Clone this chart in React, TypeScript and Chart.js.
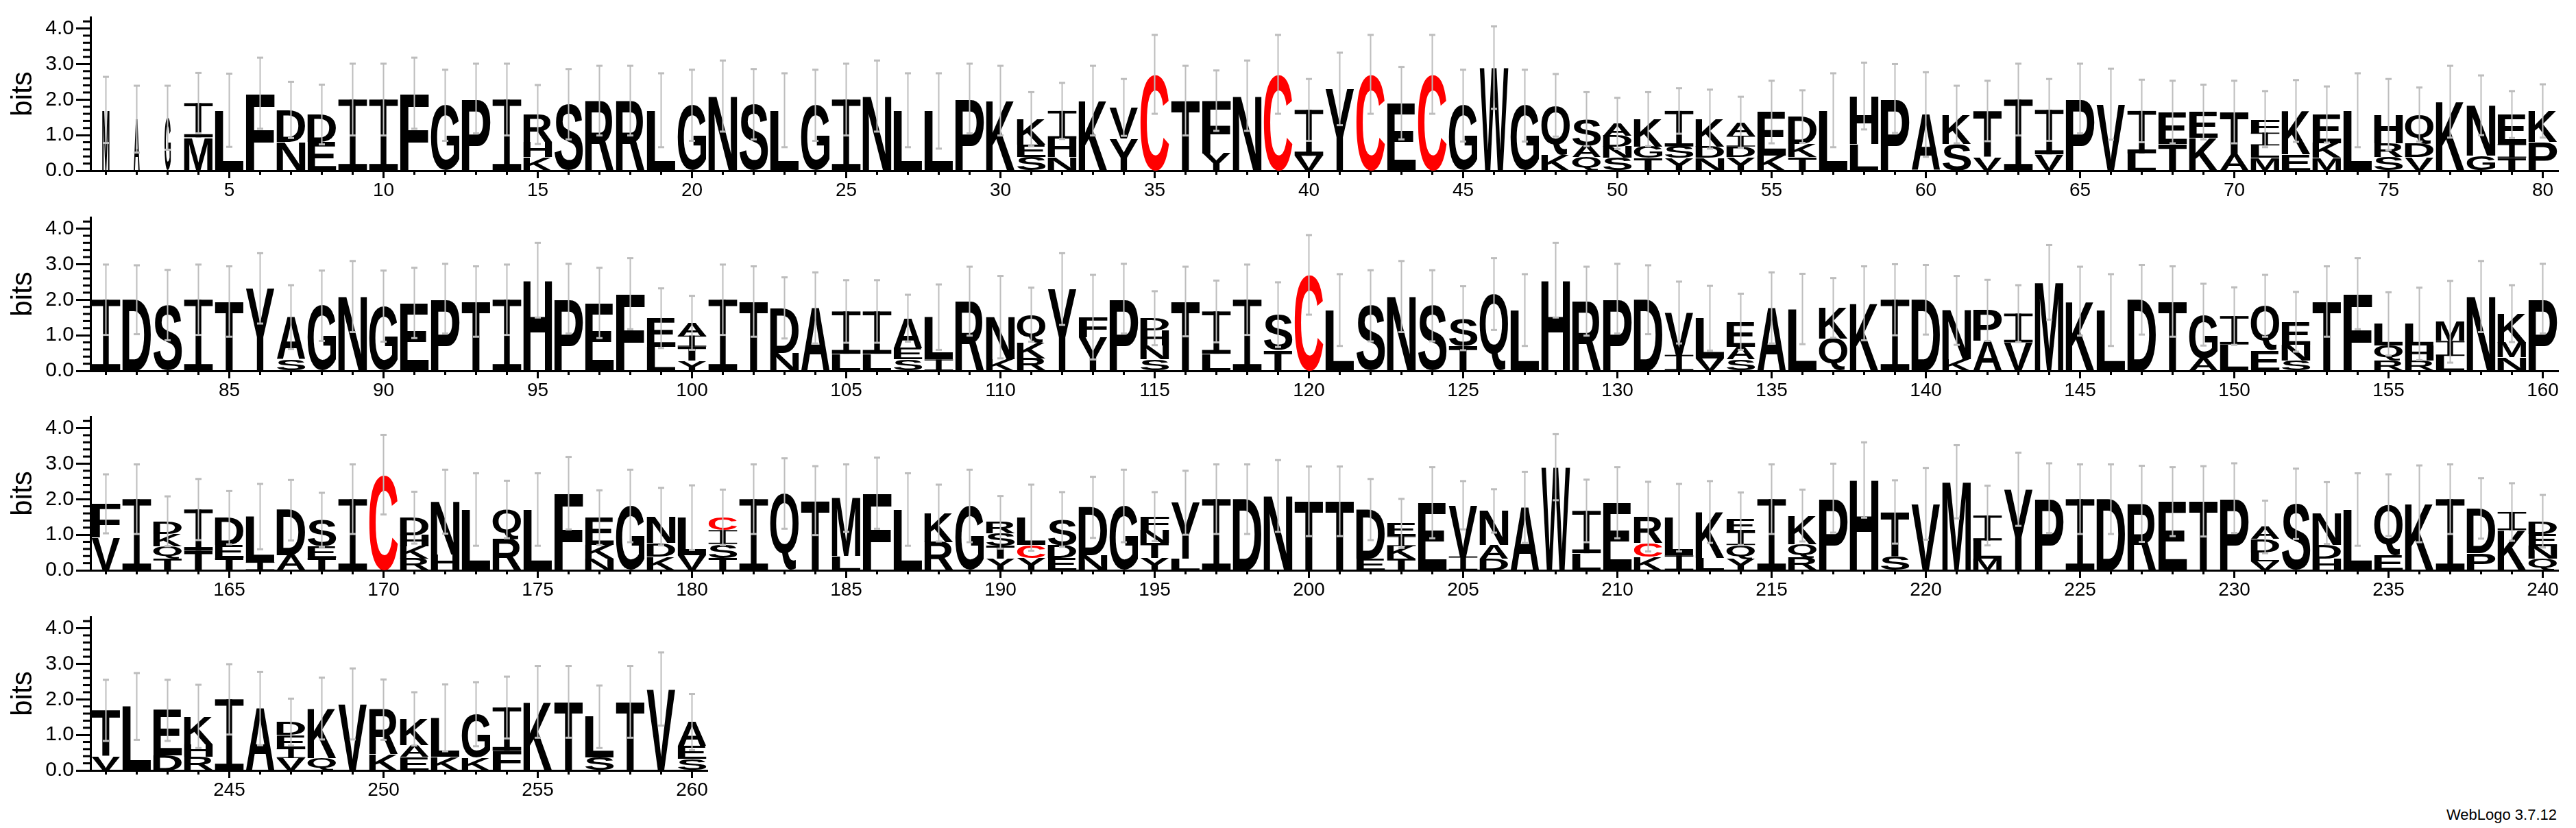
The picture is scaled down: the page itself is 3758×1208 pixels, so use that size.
import React, { useEffect, useRef } from 'react';
import { Chart, registerables } from 'chart.js';

Chart.register(...registerables);

const FONT = '"Liberation Sans", Arimo, Arial, Helvetica, sans-serif';

// Each stack: letters from bottom to top, each followed by the cumulative height (bits) of its top edge.
const row1Stacks = [
  "M1.71", "A1.45", "G1.49", "M0.94 I1.90", "L1.70", "F2.18", "N0.81 D1.71", "E0.81 D1.58", "I2.00", "I2.00",
  "F2.18", "G1.84", "P2.03", "I2.00", "K0.39 H0.81 R1.58", "S1.87", "R1.97", "R1.97", "L1.70", "G1.84",
  "N2.10", "S1.87", "L1.70", "G1.84", "I2.00", "N2.10", "L1.70", "L1.68", "P2.03", "K1.97",
  "S0.39 E0.74 K1.45", "N0.39 H0.90 I1.68", "K1.97", "Y0.91 V1.78", "C2.71", "T1.97", "Y0.49 F1.97", "N2.11", "C2.71", "V0.42 I1.71",
  "Y2.30", "C2.71", "E1.90", "C2.71", "G1.83", "W2.90", "G1.83", "K0.46 Q1.84", "Q0.39 A0.71 S1.45", "S0.36 N0.68 D0.99 A1.33",
  "T0.36 G0.68 K1.45", "Y0.36 S0.68 I1.68", "N0.36 D0.68 K1.45", "Y0.39 D0.68 I0.98 A1.36", "K0.42 E1.65", "T0.39 K0.76 D1.52", "L1.70", "L0.75 H2.10", "P2.03", "A1.58",
  "S0.75 K1.58", "V0.39 T1.68", "I2.00", "V0.46 I1.71", "P2.03", "V1.87", "L0.49 I1.68", "T0.75 E1.65", "K0.92 E1.65", "A0.46 T1.65",
  "M0.36 L0.71 I1.07 F1.45", "E0.46 K1.68", "M0.36 K0.78 E1.58", "L1.70", "S0.39 R0.78 H1.58", "V0.39 D0.78 Q1.58", "K1.94", "G0.42 N1.84", "T0.36 I0.75 E1.58", "P0.81 K1.68"
];
const row1ErrorTops = [
  2.64, 2.39, 2.39, 2.75, 2.73, 3.18, 2.5, 2.42, 3.01, 3.01,
  3.18, 2.84, 3.01, 3.01, 2.41, 2.86, 2.95, 2.95, 2.74, 2.84,
  3.10, 2.86, 2.74, 2.84, 3.01, 3.10, 2.74, 2.74, 3.01, 2.95,
  2.21, 2.47, 2.95, 2.58, 3.82, 2.95, 2.82, 3.10, 3.82, 2.58,
  3.32, 3.82, 2.92, 3.82, 2.84, 4.06, 2.84, 2.72, 2.21, 2.05,
  2.21, 2.32, 2.28, 2.08, 2.53, 2.26, 2.74, 3.04, 3.0, 2.77,
  2.39, 2.53, 3.01, 2.58, 3.01, 2.87, 2.56, 2.53, 2.42, 2.53,
  2.24, 2.55, 2.37, 2.74, 2.58, 2.34, 2.95, 2.68, 2.24, 2.43
];

const row2Stacks = [
  "I2.00", "D2.00", "S1.85", "I2.00", "T1.95", "Y2.32", "S0.32 A1.51", "G1.83", "N2.09", "G1.82",
  "E1.91", "P2.03", "T1.95", "I2.00", "H2.55", "P2.03", "E1.91", "F2.17", "L0.68 E1.48", "Y0.29 T0.68 I0.99 A1.35",
  "I2.00", "T1.95", "N0.51 D1.77", "A1.77", "L0.48 I1.67", "L0.48 I1.67", "S0.32 E0.64 A1.48", "I0.32 L1.51", "R1.96", "K0.32 N1.51",
  "R0.35 K0.80 Q1.58", "Y2.30", "Y0.95 F1.51", "P2.03", "S0.32 N0.71 H1.13 D1.48", "T1.95", "L0.48 I1.67", "I2.00", "T0.58 S1.58", "C2.70",
  "L1.71", "S1.83", "N2.09", "S1.83", "T0.71 S1.48", "Q2.16", "L1.71", "H2.55", "R1.96", "P2.03",
  "D2.00", "I0.45 V1.64", "V0.35 L1.48", "S0.32 A0.68 E1.38", "A1.77", "L1.74", "Q0.90 K1.77", "K1.90", "I2.00", "D2.00",
  "K0.32 N1.70", "A0.84 P1.70", "V0.80 I1.61", "M2.49", "K1.96", "L1.71", "D2.00", "T1.95", "A0.35 G1.58", "L0.74 I1.54",
  "E0.58 Q1.83", "S0.29 N0.74 E1.38", "T1.95", "F2.17", "R0.29 Q0.71 L1.32", "R0.29 H0.71 L1.32", "L0.42 I0.84 M1.38", "N2.09", "N0.39 M0.80 K1.61", "P2.03"
];
const row2ErrorTops = [
  2.99, 2.97, 2.84, 2.99, 2.94, 3.31, 2.41, 2.82, 3.09, 2.82,
  2.90, 3.01, 2.94, 2.99, 3.60, 3.01, 2.90, 3.17, 2.32, 2.11,
  2.99, 2.94, 2.63, 2.77, 2.55, 2.55, 2.14, 2.43, 2.93, 2.67,
  2.34, 3.31, 2.70, 3.01, 2.24, 2.93, 2.54, 2.99, 2.49, 3.82,
  2.72, 2.83, 3.09, 2.83, 2.38, 3.17, 2.72, 3.60, 2.93, 3.01,
  2.97, 2.51, 2.39, 2.17, 2.77, 2.73, 2.61, 2.94, 3.00, 2.98,
  2.67, 2.56, 2.41, 3.54, 2.93, 2.72, 2.98, 2.94, 2.45, 2.35,
  2.70, 2.22, 2.94, 3.17, 2.21, 2.34, 2.53, 3.09, 2.41, 3.01
];

const row3Stacks = [
  "V0.93 F1.87", "I2.00", "T0.32 Q0.68 K1.03 D1.38", "T0.55 I1.71", "T0.35 E0.71 D1.48", "I0.23 L1.51", "A0.42 D1.69", "T0.35 E0.68 S1.42", "I2.00", "C2.69",
  "R0.32 K0.68 H0.99 D1.48", "H0.45 N1.93", "L1.71", "R0.87 Q1.71", "L1.71", "F2.17", "N0.32 K0.71 E1.48", "G1.81", "K0.39 D0.77 N1.51", "V0.42 L1.48",
  "T0.35 S0.74 I1.13 C1.49", "I2.00", "Q2.16", "T1.96", "L0.40 M2.03", "F2.17", "L1.71", "R0.80 K1.61", "G1.81", "Y0.32 T0.68 S1.03 R1.35",
  "Y0.35 C0.71 L1.48", "E0.35 D0.71 S1.43", "N0.42 D1.77", "G1.81", "Y0.35 T0.77 N1.13 F1.51", "L0.32 Y1.90", "I2.00", "D2.00", "N2.09", "T1.94",
  "T1.94", "E0.32 D1.71", "T0.32 K0.68 I0.96 E1.32", "E1.90", "I0.39 V1.83", "D0.32 A0.71 N1.67", "A1.77", "W2.90", "L0.48 I1.67", "E1.90",
  "K0.39 C0.77 R1.51", "I0.42 L1.48", "L0.35 K1.64", "Y0.32 Q0.71 I1.08 E1.45", "I2.00", "R0.35 Q0.74 K1.54", "P2.03", "H2.54", "S0.39 T1.64", "V1.87",
  "M2.49", "M0.32 L0.84 I1.54", "Y2.28", "P2.03", "I2.00", "D2.00", "R1.87", "E1.93", "T1.94", "P2.03",
  "V0.26 L0.51 D0.88 A1.22", "S1.87", "H0.32 D0.71 N1.61", "L1.71", "E0.42 Q1.83", "K1.87", "I2.00", "P0.48 D1.74", "K1.13 I1.64", "Q0.32 N0.68 E1.03 D1.38"
];
const row3ErrorTops = [
  2.70, 2.98, 2.08, 2.57, 2.23, 2.43, 2.54, 2.18, 2.98, 3.81,
  2.21, 2.83, 2.73, 2.52, 2.73, 3.19, 2.25, 2.83, 2.32, 2.39,
  2.27, 2.98, 3.15, 2.93, 2.98, 3.17, 2.73, 2.41, 2.83, 2.09,
  2.41, 2.20, 2.63, 2.83, 2.20, 2.80, 2.98, 2.98, 3.10, 2.92,
  2.92, 2.57, 2.01, 2.90, 2.51, 2.28, 2.77, 3.83, 2.55, 2.90,
  2.49, 2.43, 2.51, 2.19, 2.98, 2.27, 3.00, 3.60, 2.53, 2.88,
  3.52, 2.38, 3.31, 3.01, 2.98, 2.98, 2.94, 2.90, 2.93, 3.01,
  1.96, 2.86, 2.48, 2.73, 2.70, 2.95, 2.98, 2.59, 2.45, 2.12
];

const row4Stacks = [
  "V0.40 T1.69", "L1.80", "D0.42 E1.69", "R0.39 H0.74 K1.52", "I2.00", "A1.74", "V0.35 I0.62 E1.00 D1.36", "Q0.35 K1.74", "V1.87", "K0.45 R1.71",
  "E0.39 A0.71 K1.45", "K0.39 L1.48", "K0.36 G1.58", "F0.55 I1.77", "K1.93", "T1.93", "S0.36 L1.51", "T1.93", "V2.29", "S0.32 E0.68 A1.36"
];
const row4ErrorTops = [
  2.55, 2.74, 2.55, 2.41, 2.99, 2.77, 2.02, 2.61, 2.87, 2.56,
  2.20, 2.42, 2.48, 2.64, 2.94, 2.94, 2.39, 2.94, 3.32, 2.15
];

// Stack width fraction for the first alignment positions (few sequences there)
const coverageStart = [0.25, 0.21, 0.22];
const rowStartPositions = [1, 81, 161, 241];
const yTickLabels = ["0.0", "1.0", "2.0", "3.0", "4.0"];

// geometry
const ROW_PITCH = 291.6;
const CANVAS_H = 292;
const AREA_TOP = 25;
const AXIS_LEFT = 132;
const COL_W = 45;
const Y_MAX = 4.32;

type Letter = { ch: string; h: number };

function parseStack(s: string): Letter[] {
  const out: Letter[] = [];
  let prev = 0;
  for (const tok of s.trim().split(/\s+/)) {
    const ch = tok[0];
    const top = parseFloat(tok.slice(1));
    out.push({ ch, h: top - prev });
    prev = top;
  }
  return out;
}

const GLYPH_FONT = `bold 200px ${FONT}`;
const boxCache: Record<string, { l: number; r: number; a: number; d: number }> = {};

function glyphBox(ctx: CanvasRenderingContext2D, ch: string) {
  if (!boxCache[ch]) {
    ctx.font = GLYPH_FONT;
    const m = ctx.measureText(ch);
    boxCache[ch] = {
      l: m.actualBoundingBoxLeft,
      r: m.actualBoundingBoxRight,
      a: m.actualBoundingBoxAscent,
      d: m.actualBoundingBoxDescent,
    };
  }
  return boxCache[ch];
}

function drawLetter(ctx: CanvasRenderingContext2D, ch: string, x: number, y: number, w: number, h: number, color: string) {
  if (h < 0.3 || w < 0.3) return;
  ctx.save();
  ctx.fillStyle = color;
  if (ch === 'I') {
    const bar = Math.max(0.8, h * 0.09);
    const stem = w * 0.2;
    ctx.fillRect(x, y, w, bar);
    ctx.fillRect(x, y + h - bar, w, bar);
    ctx.fillRect(x + (w - stem) / 2, y, stem, h);
  } else {
    const b = glyphBox(ctx, ch);
    const gw = b.l + b.r;
    const gh = b.a + b.d;
    ctx.translate(x, y);
    ctx.scale(w / gw, h / gh);
    ctx.font = GLYPH_FONT;
    ctx.textAlign = 'left';
    ctx.textBaseline = 'alphabetic';
    ctx.fillText(ch, b.l, b.a);
  }
  ctx.restore();
}

type Row = { start: number; stacks: string[]; errs: number[] };

const ROWS: Row[] = [
  { start: rowStartPositions[0], stacks: row1Stacks, errs: row1ErrorTops },
  { start: rowStartPositions[1], stacks: row2Stacks, errs: row2ErrorTops },
  { start: rowStartPositions[2], stacks: row3Stacks, errs: row3ErrorTops },
  { start: rowStartPositions[3], stacks: row4Stacks, errs: row4ErrorTops },
];

function canvasWidth(row: Row) {
  return row.stacks.length === 80 ? 3758 : 1060;
}

function makeChart(canvas: HTMLCanvasElement, row: Row) {
  const stacks = row.stacks.map(parseStack);
  const n = stacks.length;
  const nLayers = Math.max(...stacks.map((s) => s.length));
  const labels = stacks.map((_, i) => String(row.start + i));
  const datasets: any[] = [];
  for (let k = 0; k < nLayers; k++) {
    datasets.push({
      label: `layer ${k + 1}`,
      data: stacks.map((s) => (s[k] ? s[k].h : 0)),
      backgroundColor: 'rgba(0,0,0,0)',
      borderWidth: 0,
      barPercentage: 0.925,
      categoryPercentage: 1,
      stack: 'logo',
    });
  }
  const width = canvasWidth(row);
  const padRight = width - AXIS_LEFT - n * COL_W;

  const logoPlugin = {
    id: 'logoLetters',
    afterDatasetsDraw(chart: any) {
      const ctx: CanvasRenderingContext2D = chart.ctx;
      const area = chart.chartArea;
      const xs = chart.scales.x;
      const ys = chart.scales.y;
      // minor ticks
      ctx.save();
      ctx.fillStyle = '#000';
      for (let t = 1; t <= 21; t++) {
        if (t % 5 === 0) continue;
        const py = ys.getPixelForValue(t * 0.2);
        ctx.fillRect(area.left - 11, py - 1.5, 11, 3);
      }
      for (let i = 0; i < n; i++) {
        if ((row.start + i) % 5 === 0) continue;
        const px = xs.getPixelForValue(i);
        ctx.fillRect(px - 1.5, area.bottom, 3, 6);
      }
      ctx.restore();
      // letters
      for (let k = 0; k < nLayers; k++) {
        const meta = chart.getDatasetMeta(k);
        meta.data.forEach((el: any, i: number) => {
          const L = stacks[i][k];
          if (!L || L.h <= 0) return;
          const p = el.getProps(['x', 'y', 'base', 'width'], true);
          const gi = row.start - 1 + i;
          const frac = gi < coverageStart.length ? coverageStart[gi] : 1;
          const w = p.width * frac;
          const top = Math.min(p.y, p.base);
          const h = Math.abs(p.base - p.y);
          drawLetter(ctx, L.ch, p.x - w / 2, top, w, h, L.ch === 'C' ? '#ff0000' : '#000000');
        });
      }
      // error bars
      ctx.save();
      ctx.strokeStyle = '#bdbdbd';
      ctx.fillStyle = '#bdbdbd';
      ctx.lineWidth = 2;
      for (let i = 0; i < n; i++) {
        const total = stacks[i].reduce((a, l) => a + l.h, 0);
        const hi = row.errs[i];
        const lo = 2 * total - hi;
        const px = xs.getPixelForValue(i);
        const yHi = ys.getPixelForValue(hi);
        const yLo = ys.getPixelForValue(lo);
        ctx.beginPath();
        ctx.moveTo(px, yHi);
        ctx.lineTo(px, yLo);
        ctx.stroke();
        ctx.fillRect(px - 4.5, yHi - 1.5, 9, 3);
        ctx.fillRect(px - 4.5, yLo - 1.5, 9, 3);
      }
      ctx.restore();
    },
  };

  return new Chart(canvas, {
    type: 'bar',
    data: { labels, datasets },
    options: {
      animation: false,
      responsive: false,
      devicePixelRatio: 1,
      layout: { padding: { top: AREA_TOP, right: padRight, left: 0, bottom: 0 } },
      plugins: { legend: { display: false }, tooltip: { enabled: false } },
      scales: {
        x: {
          stacked: true,
          offset: true,
          grid: {
            offset: false,
            drawOnChartArea: false,
            drawTicks: true,
            tickLength: 11,
            tickWidth: 3,
            tickColor: (c: any) => ((row.start + c.index) % 5 === 0 ? '#000' : 'rgba(0,0,0,0)'),
          },
          border: { display: true, width: 3, color: '#000' },
          ticks: {
            autoSkip: false,
            maxRotation: 0,
            minRotation: 0,
            padding: 1,
            color: '#000',
            font: { size: 28, family: FONT },
            callback: (_v: any, i: number) => ((row.start + i) % 5 === 0 ? String(row.start + i) : ''),
          },
          afterFit: (s: any) => {
            s.height = CANVAS_H - AREA_TOP - Math.round(Y_MAX * 51.85);
          },
        },
        y: {
          stacked: true,
          min: 0,
          max: Y_MAX,
          afterBuildTicks: (s: any) => {
            s.ticks = yTickLabels.map((t) => ({ value: parseFloat(t) }));
          },
          ticks: {
            stepSize: 1,
            color: '#000',
            padding: 3,
            font: { size: 30, family: FONT },
            callback: (v: any) => Number(v).toFixed(1),
          },
          grid: { drawOnChartArea: false, drawTicks: true, tickLength: 21, tickWidth: 3, tickColor: '#000' },
          border: { display: true, width: 3, color: '#000' },
          title: {
            display: true,
            text: 'bits',
            color: '#000',
            font: { size: 42, family: FONT, lineHeight: 1.2 },
            padding: { top: 9, bottom: 0 },
          },
          afterFit: (s: any) => {
            s.width = AXIS_LEFT;
          },
        },
      },
    } as any,
    plugins: [logoPlugin],
  });
}

export default function App() {
  const refs = useRef<(HTMLCanvasElement | null)[]>([]);
  useEffect(() => {
    const charts = ROWS.map((row, k) => makeChart(refs.current[k] as HTMLCanvasElement, row));
    return () => charts.forEach((c) => c.destroy());
  }, []);
  return (
    <div style={{ position: 'absolute', left: 0, top: 0, width: 3758, height: 1208, background: '#fff', overflow: 'hidden' }}>
      {ROWS.map((row, k) => (
        <canvas
          key={k}
          ref={(el) => {
            refs.current[k] = el;
          }}
          width={canvasWidth(row)}
          height={CANVAS_H}
          style={{ position: 'absolute', left: 0, top: Math.round(k * ROW_PITCH), width: canvasWidth(row), height: CANVAS_H }}
        />
      ))}
      <div
        style={{
          position: 'absolute',
          left: 3330,
          width: 400,
          top: 1176,
          textAlign: 'right',
          fontFamily: FONT,
          fontSize: 22,
          color: '#000',
          whiteSpace: 'nowrap',
        }}
      >
        WebLogo 3.7.12
      </div>
    </div>
  );
}
